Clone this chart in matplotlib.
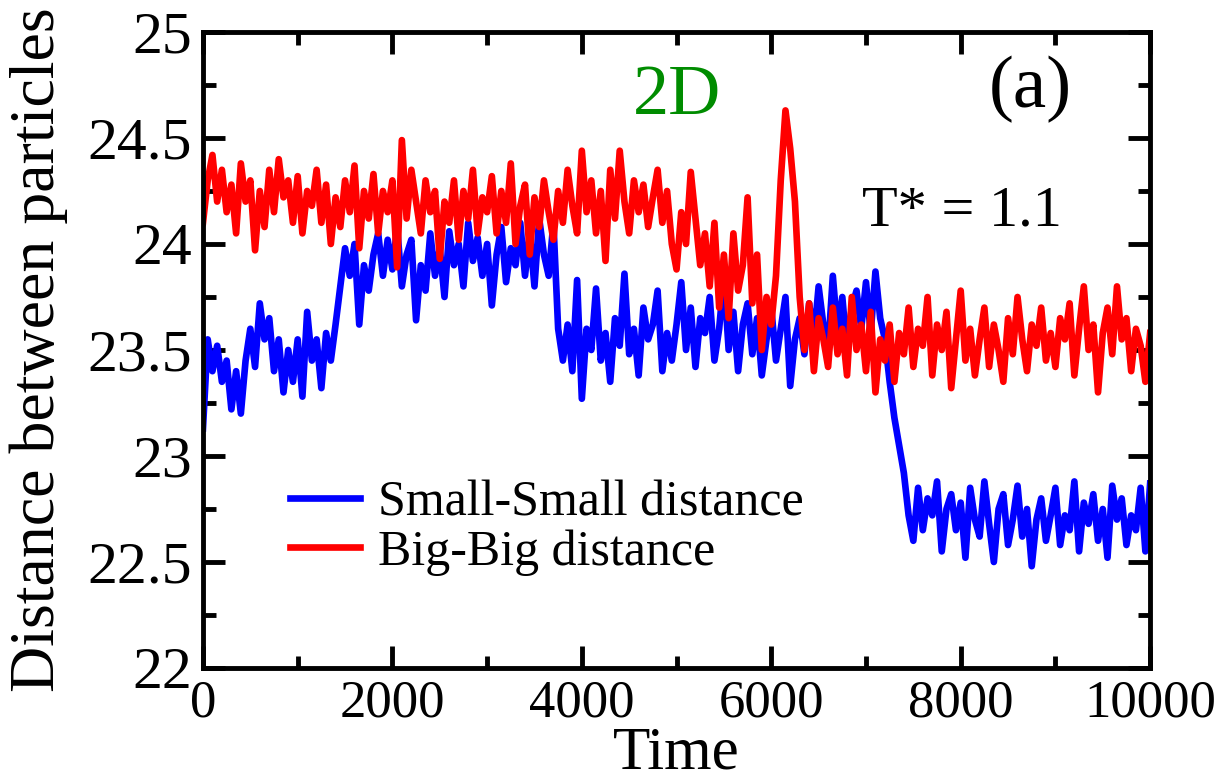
import numpy as np
import matplotlib
matplotlib.use("Agg")
from matplotlib import pyplot as plt
from matplotlib.ticker import MultipleLocator

# time axis: one sample every 50 time units, 0 .. 10000
time = np.arange(0, 10001, 50)

small_small = [
    # 0 - 950
    23.13, 23.55, 23.40, 23.52, 23.35, 23.45, 23.22, 23.40, 23.20, 23.45,
    23.60, 23.42, 23.72, 23.55, 23.65, 23.40, 23.55, 23.30, 23.50, 23.35,
    # 1000 - 1950
    23.55, 23.28, 23.68, 23.45, 23.55, 23.32, 23.58, 23.45, 23.62, 23.80,
    23.98, 23.85, 24.00, 23.62, 23.90, 23.78, 23.95, 24.05, 23.85, 24.02,
    # 2000 - 2950
    23.88, 24.08, 23.80, 23.95, 24.02, 23.64, 23.90, 23.78, 24.05, 23.85,
    23.98, 23.75, 24.06, 23.90, 24.00, 23.80, 24.10, 23.92, 24.03, 23.85,
    # 3000 - 3950
    24.00, 23.71, 23.95, 24.08, 23.82, 23.98, 23.90, 24.10, 23.85, 24.05,
    23.80, 24.12, 23.95, 23.85, 24.10, 23.60, 23.45, 23.62, 23.40, 23.83,
    # 4000 - 4950
    23.27, 23.60, 23.50, 23.79, 23.45, 23.58, 23.35, 23.65, 23.52, 23.86,
    23.48, 23.60, 23.38, 23.70, 23.55, 23.62, 23.78, 23.40, 23.58, 23.45,
    # 5000 - 5950
    23.62, 23.82, 23.50, 23.70, 23.42, 23.65, 23.58, 23.75, 23.45, 23.60,
    23.85, 23.50, 23.68, 23.40, 23.62, 23.72, 23.48, 23.65, 23.38, 23.55,
    # 6000 - 6950
    23.70, 23.45, 23.60, 23.75, 23.33, 23.55, 23.65, 23.48, 23.72, 23.55,
    23.80, 23.62, 23.50, 23.85, 23.58, 23.75, 23.50, 23.70, 23.78, 23.60,
    # 7000 - 7950
    23.82, 23.58, 23.87, 23.65, 23.55, 23.35, 23.18, 23.05, 22.92, 22.72,
    22.60, 22.85, 22.65, 22.80, 22.72, 22.88, 22.55, 22.75, 22.82, 22.65,
    # 8000 - 8950
    22.78, 22.52, 22.85, 22.70, 22.62, 22.88, 22.68, 22.50, 22.75, 22.82,
    22.58, 22.70, 22.86, 22.62, 22.75, 22.48, 22.70, 22.80, 22.60, 22.72,
    # 9000 - 10000
    22.85, 22.58, 22.72, 22.65, 22.88, 22.55, 22.78, 22.68, 22.82, 22.60,
    22.75, 22.52, 22.86, 22.70, 22.80, 22.58, 22.72, 22.65, 22.85, 22.55,
    22.87,
]

big_big = [
    # 0 - 950
    24.10, 24.30, 24.42, 24.20, 24.35, 24.15, 24.28, 24.05, 24.38, 24.20,
    24.30, 23.97, 24.25, 24.08, 24.35, 24.15, 24.40, 24.22, 24.30, 24.10,
    # 1000 - 1950
    24.32, 24.05, 24.25, 24.18, 24.35, 24.10, 24.28, 24.00, 24.22, 24.08,
    24.30, 24.15, 24.37, 23.98, 24.25, 24.12, 24.33, 24.05, 24.25, 24.15,
    # 2000 - 2950
    24.30, 23.89, 24.49, 24.12, 24.35, 24.20, 24.05, 24.30, 24.15, 24.25,
    23.93, 24.20, 24.10, 24.30, 24.02, 24.25, 24.12, 24.35, 24.05, 24.22,
    # 3000 - 3950
    24.15, 24.32, 24.05, 24.25, 24.10, 24.38, 24.00, 24.18, 24.28, 23.95,
    24.22, 24.08, 24.30, 24.15, 24.02, 24.25, 24.10, 24.35, 24.18, 24.05,
    # 4000 - 4950
    24.44, 24.15, 24.30, 24.05, 24.25, 23.92, 24.35, 24.12, 24.44, 24.20,
    24.05, 24.30, 24.15, 24.28, 24.08, 24.22, 24.35, 24.10, 24.25, 24.00,
    # 5000 - 5950
    23.88, 24.15, 24.00, 24.34, 24.12, 23.90, 24.05, 23.80, 24.10, 23.70,
    23.95, 23.65, 24.05, 23.78, 23.90, 24.22, 23.72, 23.95, 23.50, 23.75,
    # 6000 - 6950
    23.62, 23.85, 24.30, 24.63, 24.45, 24.20, 23.75, 23.50, 23.72, 23.40,
    23.65, 23.55, 23.42, 23.70, 23.48, 23.60, 23.38, 23.75, 23.50, 23.62,
    # 7000 - 7950
    23.40, 23.68, 23.30, 23.55, 23.45, 23.62, 23.35, 23.58, 23.48, 23.70,
    23.42, 23.60, 23.52, 23.75, 23.38, 23.62, 23.50, 23.68, 23.32, 23.55,
    # 8000 - 8950
    23.78, 23.45, 23.60, 23.38, 23.55, 23.70, 23.42, 23.62, 23.50, 23.35,
    23.65, 23.48, 23.75, 23.55, 23.40, 23.62, 23.52, 23.70, 23.45, 23.58,
    # 9000 - 10000
    23.42, 23.65, 23.55, 23.72, 23.38, 23.60, 23.80, 23.50, 23.62, 23.30,
    23.58, 23.70, 23.48, 23.80, 23.55, 23.65, 23.40, 23.60, 23.52, 23.35,
    23.58,
]

y_ticks = [22, 22.5, 23, 23.5, 24, 24.5, 25]
y_labels = ["22", "22.5", "23", "23.5", "24", "24.5", "25"]

plt.rcParams["font.family"] = ["Liberation Serif", "DejaVu Serif"]

fig = plt.figure(figsize=(12.19, 7.8), dpi=100)
ax = fig.add_axes([0.1665, 0.1436, 0.777, 0.8154])

ax.plot(time, small_small, c="#0000ff", lw=4.8, label="Small-Small distance")
ax.plot(time, big_big, c="#ff0000", lw=4.8, label="Big-Big distance")

ax.set_xlim(0, 10000)
ax.set_ylim(22, 25)
ax.xaxis.set_major_locator(MultipleLocator(2000))
ax.xaxis.set_minor_locator(MultipleLocator(1000))
ax.yaxis.set_minor_locator(MultipleLocator(0.25))
ax.set_yticks(y_ticks)
ax.set_yticklabels(y_labels)

ax.tick_params(which="both", direction="in", top=True, right=True, width=3.5)
ax.tick_params(which="major", length=16)
ax.tick_params(which="minor", length=9)
ax.tick_params(axis="x", labelsize=38, pad=8)
ax.tick_params(axis="y", labelsize=43, pad=8)
for s in ax.spines.values():
    s.set_linewidth(3.5)

ax.set_xlabel("Time", fontsize=44, labelpad=-1)
ax.set_ylabel("Distance between particles", fontsize=46, labelpad=14)

ax.text(0.5, 0.898, "2D", transform=ax.transAxes, ha="center", va="center",
        fontsize=52, color="#008c00")
ax.text(0.873, 0.909, "(a)", transform=ax.transAxes, ha="center", va="center", fontsize=54)
ax.text(0.801, 0.717, "T* = 1.1", transform=ax.transAxes, ha="center", va="center", fontsize=42)

ax.legend(loc="center left", bbox_to_anchor=(0.092, 0.220), frameon=False,
          fontsize=36, handlelength=1.4, handletextpad=0.36, labelspacing=0.05,
          borderpad=0, borderaxespad=0)

fig.savefig("out.png", dpi=100)
